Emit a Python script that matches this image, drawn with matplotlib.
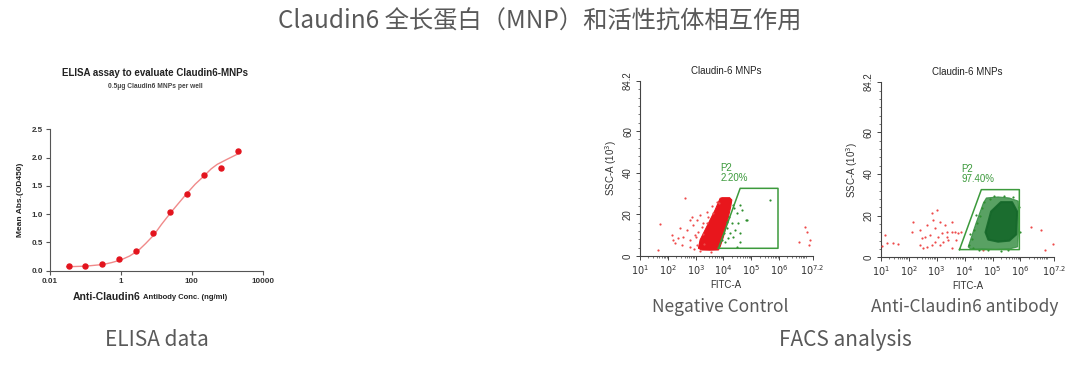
import numpy as np
import matplotlib
matplotlib.use('Agg')
import matplotlib.pyplot as plt
from matplotlib.ticker import FixedLocator, MultipleLocator, LogLocator, NullFormatter

plt.rcParams['font.family'] = ['Noto Sans CJK SC', 'DejaVu Sans']

W, H = 1080, 366

# ---- ELISA data ----
conc = [0.034, 0.1, 0.3, 0.91, 2.74, 8.2, 24.7, 74, 222, 667, 2000]
od450 = [0.09, 0.09, 0.11, 0.20, 0.34, 0.66, 1.04, 1.36, 1.69, 1.81, 2.12]
# fitted curve (log10 conc, OD)
fit_logc = [-1.53, -1.25, -1.0, -0.75, -0.5, -0.25, 0.0, 0.25, 0.5, 0.7, 0.93,
            1.15, 1.4, 1.6, 1.87, 2.1, 2.34, 2.55, 2.72, 3.0, 3.29]
fit_od = [0.07, 0.075, 0.08, 0.095, 0.11, 0.145, 0.19, 0.26, 0.36, 0.48, 0.63,
          0.82, 1.02, 1.17, 1.37, 1.53, 1.67, 1.80, 1.88, 1.97, 2.06]

# ---- FACS data (log10 FITC-A, SSC-A in 10^3) ----
gate_logx = [3.82, 4.60, 5.96, 5.96]
gate_y = [3.7, 32.5, 32.5, 3.7]

neg_cloud_logx = [3.10, 3.22, 3.50, 3.82, 3.88, 4.00, 4.09, 4.18, 4.26, 4.30, 4.22, 3.95,
                  3.88, 3.70, 3.52, 3.34, 3.16]
neg_cloud_y = [3.7, 2.9, 2.8, 2.9, 4.5, 9.3, 14.1, 18.9, 23.7, 26.9, 28.0, 28.0,
               27.7, 22.1, 17.3, 12.5, 7.7]

neg_red_logx = [2.62, 1.72, 1.66, 2.14, 2.20, 2.80, 2.86, 2.92, 2.68, 2.44, 3.04, 3.16, 3.28,
                2.56, 2.38, 2.26, 2.80, 2.98, 3.10, 3.22, 2.80, 2.50, 3.40, 6.94, 7.00,
                7.12, 6.70, 7.06, 3.05, 3.00, 3.25, 3.45, 3.60, 3.62, 3.40, 3.75, 3.30,
                2.95, 3.15, 3.55, 3.85]
neg_red_y = [27.7, 15.2, 2.9, 10.1, 7.7, 17.3, 18.9, 14.9, 12.5, 13.3, 17.3, 19.7, 15.7,
             9.3, 8.5, 6.1, 7.7, 10.1, 11.7, 14.1, 4.5, 5.3, 21.3, 14.1, 11.7,
             7.7, 6.9, 5.3, 5.5, 9.0, 10.5, 18.5, 24.0, 20.5, 16.0, 26.0, 6.0,
             3.5, 2.2, 1.9, 25.5]
neg_green_logx = [4.60, 4.66, 4.48, 4.84, 4.54, 4.42, 4.60, 4.36, 4.18, 4.24, 5.68, 4.14,
                  4.30, 4.06, 4.21, 4.38, 4.60, 4.50, 4.81, 4.34, 4.12, 4.02, 3.96]
neg_green_y = [24.5, 22.1, 20.5, 17.3, 15.7, 12.5, 10.9, 9.3, 8.5, 10.9, 26.9, 13.3,
               15.7, 6.9, 18.9, 22.9, 6.9, 4.5, 17.3, 24.5, 16.5, 11.0, 7.5]

pos_cloud_logx = [4.13, 4.40, 4.67, 4.78, 5.20, 5.60, 5.92, 5.95, 5.90, 5.60, 5.10, 4.60, 4.20]
pos_cloud_y = [5.0, 16.0, 26.0, 28.5, 29.0, 28.5, 27.0, 18.0, 5.0, 4.0, 3.8, 4.0, 4.2]
pos_core_logx = [4.75, 4.95, 5.30, 5.70, 5.88, 5.85, 5.60, 5.20, 4.85]
pos_core_y = [12.0, 22.0, 26.5, 26.5, 22.0, 11.0, 8.0, 7.5, 8.5]

pos_red_logx = [1.45, 1.63, 2.17, 2.11, 2.46, 2.58, 2.64, 2.82, 2.88, 2.94, 3.00, 3.06, 3.12,
                3.18, 3.24, 3.30, 3.36, 3.42, 3.54, 3.54, 3.65, 3.71, 3.77, 3.89, 2.82,
                2.94, 3.12, 2.64, 2.52, 4.67, 6.39, 6.75, 6.87, 1.03, 1.24, 2.40, 2.76,
                3.36, 2.40, 3.54, 1.15, 7.18]
pos_red_y = [7.0, 6.4, 17.1, 12.3, 9.1, 9.9, 15.5, 21.1, 17.9, 13.9, 22.7, 9.9, 17.1,
             11.5, 7.5, 15.5, 12.3, 8.3, 17.1, 12.3, 12.3, 8.3, 11.5, 12.3, 5.9,
             7.5, 5.9, 5.1, 4.3, 3.5, 14.7, 13.1, 3.5, 5.4, 6.7, 13.1, 10.7,
             9.9, 5.9, 4.3, 10.7, 6.4]
pos_green_logx = [4.15, 4.25, 4.35, 4.45, 4.55, 4.62, 4.70, 4.90, 5.05, 5.40, 5.75, 5.95,
                  5.97, 4.30, 4.50, 4.85, 5.55, 4.20, 4.40, 5.30]
pos_green_y = [6.0, 9.0, 13.0, 16.5, 20.0, 23.5, 26.5, 28.0, 29.5, 29.3, 28.8, 24.0,
               12.0, 4.5, 3.6, 3.3, 3.4, 11.0, 20.5, 3.0]

fig = plt.figure(figsize=(W / 100, H / 100), dpi=100)


def rect(l, t, r, b):
    return [l / W, 1 - b / H, (r - l) / W, (b - t) / H]


def ftext(x, y, s, **kw):
    fig.text(x / W, 1 - y / H, s, **kw)


# titles and captions
ftext(540, 22, 'Claudin6 全长蛋白（MNP）和活性抗体相互作用', fontsize=17.5, color='#595959',
      ha='center', va='center')
ftext(157, 340, 'ELISA data', fontsize=15, color='#595959', ha='center', va='center')
ftext(845, 340, 'FACS analysis', fontsize=15, color='#595959', ha='center', va='center')
ftext(720, 307, 'Negative Control', fontsize=12.5, color='#595959', ha='center', va='center')
ftext(965, 307, 'Anti-Claudin6 antibody', fontsize=12.5, color='#595959', ha='center', va='center')

# ---- ELISA panel ----
ax = fig.add_axes(rect(50, 129.3, 262.5, 270.7))
ax.plot(np.power(10, fit_logc), fit_od, color='#f08a8a', lw=1.0)
ax.plot(conc, od450, 'o', color='#e3141e', ms=3.6, mec='#e3141e')
ax.set_xscale('log')
ax.set_xlim(0.01, 10000)
ax.set_ylim(0, 2.5)
ax.xaxis.set_major_locator(FixedLocator([0.01, 1, 100, 10000]))
ax.xaxis.set_minor_locator(FixedLocator([]))
ax.set_xticklabels(['0.01', '1', '100', '10000'])
ax.yaxis.set_major_locator(FixedLocator([0, 0.5, 1.0, 1.5, 2.0, 2.5]))
ax.set_yticklabels(['0.0', '0.5', '1.0', '1.5', '2.0', '2.5'])
for s in ['top', 'right']:
    ax.spines[s].set_visible(False)
for s in ['left', 'bottom']:
    ax.spines[s].set_color('#555555')
    ax.spines[s].set_linewidth(0.8)
ax.tick_params(direction='out', length=3, width=0.8, color='#555555', labelsize=5.8,
               labelcolor='#333333', pad=2)
for lab in ax.get_xticklabels() + ax.get_yticklabels():
    lab.set_family(['Liberation Sans', 'DejaVu Sans'])
    lab.set_weight('bold')

ftext(155, 72.5, 'ELISA assay to evaluate Claudin6-MNPs', fontsize=7, weight='bold',
      color='#222222', ha='center', va='center', family=['Liberation Sans', 'DejaVu Sans'])
ftext(155, 87, '0.5μg Claudin6 MNPs per well', fontsize=4.8, weight='bold',
      color='#444444', ha='center', va='center', family=['Liberation Sans', 'DejaVu Sans'])
ftext(21, 200, 'Mean Abs.(OD450)', fontsize=6, weight='bold', color='#222222',
      ha='center', va='center', rotation=90, family=['Liberation Sans', 'DejaVu Sans'])
ftext(140, 297, 'Anti-Claudin6', fontsize=7.5, weight='bold', color='#222222',
      ha='right', va='center', family=['Liberation Sans', 'DejaVu Sans'])
ftext(143, 297.5, 'Antibody Conc. (ng/ml)', fontsize=5.5, weight='bold', color='#222222',
      ha='left', va='center', family=['Liberation Sans', 'DejaVu Sans'])


# ---- FACS panels ----
def facs(box, cloud, core, reds, greens, pct):
    a = fig.add_axes(rect(*box))
    a.fill(np.power(10, cloud[0]), cloud[1], color=cloud[2], lw=0.8, ec=cloud[2],
           alpha=cloud[3], zorder=2)
    if core is not None:
        a.fill(np.power(10, core[0]), core[1], color=core[2], lw=1.5, ec=core[2],
               alpha=0.9, zorder=3, joinstyle='round')
    a.scatter(np.power(10, reds[0]), reds[1], s=2.5, color='#ee4a4a', lw=0, zorder=3)
    if greens is not None:
        a.scatter(np.power(10, greens[0]), greens[1], s=2.5, color='#2f8f2f', lw=0, zorder=3)
    gx = np.power(10, gate_logx + gate_logx[:1])
    gy = gate_y + gate_y[:1]
    a.plot(gx, gy, color='#3c9a3c', lw=1.1, zorder=4)
    a.text(10 ** 3.88, 42.5, 'P2', color='#3c9a3c', fontsize=7, va='center',
           family=['Liberation Sans', 'DejaVu Sans'])
    a.text(10 ** 3.88, 37.5, pct, color='#3c9a3c', fontsize=7, va='center',
           family=['Liberation Sans', 'DejaVu Sans'])
    a.set_xscale('log')
    a.set_xlim(10, 10 ** 7.2)
    a.set_ylim(0, 84.2)
    a.xaxis.set_major_locator(FixedLocator([10 ** k for k in range(1, 7)] + [10 ** 7.2]))
    a.xaxis.set_minor_locator(LogLocator(base=10, subs=np.arange(2, 10), numticks=20))
    a.xaxis.set_minor_formatter(NullFormatter())
    a.set_xticklabels(['$10^{%d}$' % k for k in range(1, 7)] + ['$10^{7.2}$'])
    a.yaxis.set_major_locator(FixedLocator([0, 20, 40, 60, 84.2]))
    a.yaxis.set_minor_locator(MultipleLocator(4))
    a.set_yticklabels(['0', '20', '40', '60', '84.2'], rotation=90, va='center')
    for s in ['top', 'right']:
        a.spines[s].set_visible(False)
    for s in ['left', 'bottom']:
        a.spines[s].set_color('#444444')
        a.spines[s].set_linewidth(0.8)
    a.tick_params(which='major', direction='out', length=3, width=0.7, color='#444444',
                  labelsize=7, labelcolor='#333333', pad=2)
    a.tick_params(which='minor', direction='out', length=1.5, width=0.5, color='#444444')
    for lab in a.get_xticklabels() + a.get_yticklabels():
        lab.set_family(['Liberation Sans', 'DejaVu Sans'])
    a.set_title('Claudin-6 MNPs', fontsize=7, color='#222222', pad=5,
                family=['Liberation Sans', 'DejaVu Sans'])
    a.set_xlabel('FITC-A', fontsize=7, color='#333333', labelpad=2,
                 family=['Liberation Sans', 'DejaVu Sans'])
    a.set_ylabel('SSC-A (10$^3$)', fontsize=7, color='#333333', labelpad=3,
                 family=['Liberation Sans', 'DejaVu Sans'])
    return a


facs((640, 80.7, 812.5, 256),
     (neg_cloud_logx, neg_cloud_y, '#e8161c', 1.0), None,
     (neg_red_logx, neg_red_y), (neg_green_logx, neg_green_y), '2.20%')
facs((880.7, 82, 1054, 257.3),
     (pos_cloud_logx, pos_cloud_y, '#2f8a3c', 0.8), (pos_core_logx, pos_core_y, '#15682a'),
     (pos_red_logx, pos_red_y), (pos_green_logx, pos_green_y), '97.40%')

fig.savefig('out.png', dpi=100)
